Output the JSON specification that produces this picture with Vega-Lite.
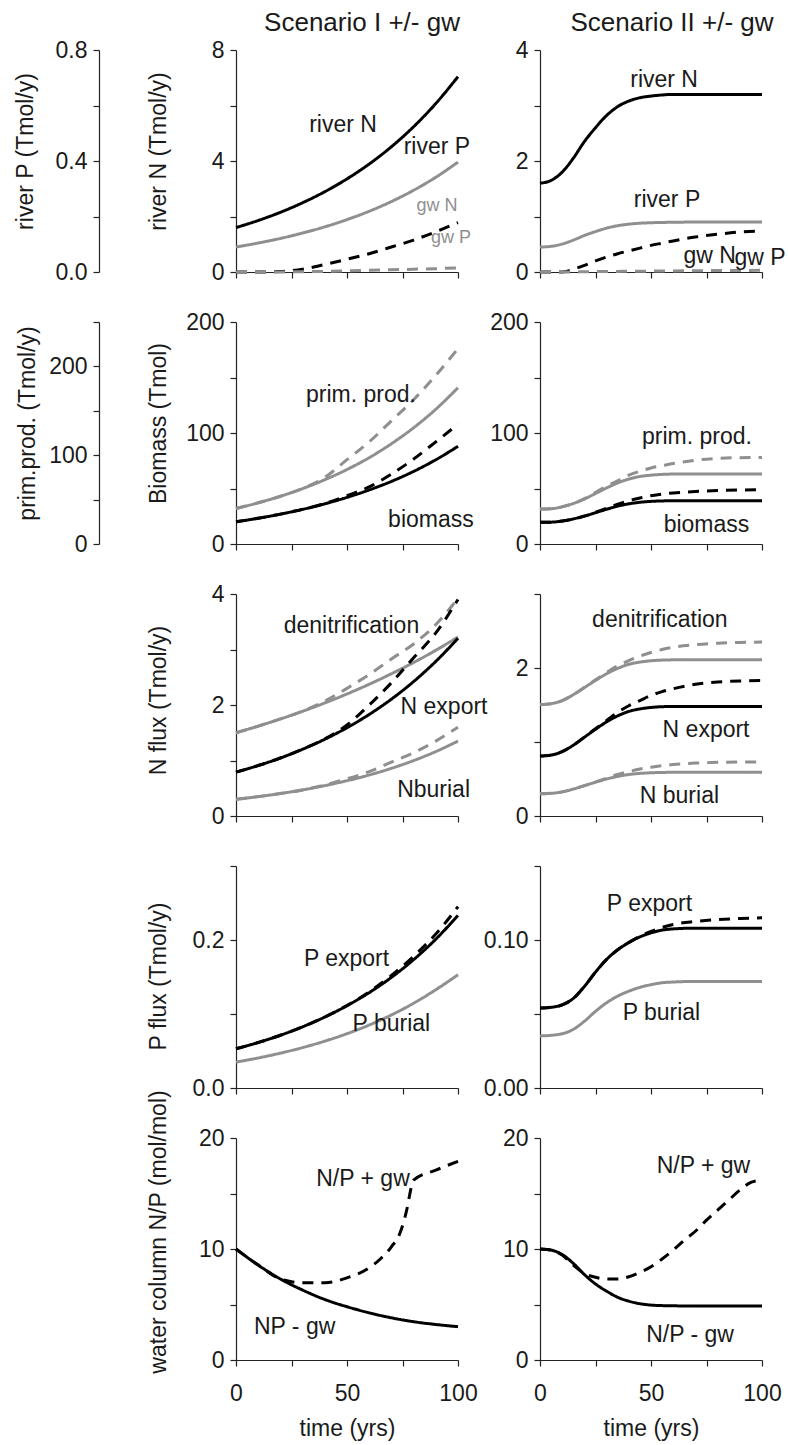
{
"$schema":"https://vega.github.io/schema/vega-lite/v6.json",
"background":"white",
"padding":{"left":13,"top":10,"right":5,"bottom":5},
"config":{
 "view":{"stroke":null},
 "font":"Liberation Sans",
 "axis":{"domainColor":"#222","domainWidth":1.2,"tickColor":"#222","tickWidth":1.2,"tickSize":6,"labelFont":"Liberation Sans","labelFontSize":23,"labelColor":"#1a1a1a","labelPadding":6,"titleFont":"Liberation Sans","titleFontSize":23,"titleFontWeight":"normal","titleColor":"#1a1a1a","grid":false,"labelFlush":false,"labelOverlap":false},
 "axisY":{"titleAlign":"center","titleBaseline":"middle"},
 "axisX":{"labelPadding":16,"titlePadding":12}
},
"datasets":{
"lines":[
{"panel":"1L","var":"N","case":"river","t":0,"v":1.6},{"panel":"1L","var":"N","case":"river","t":10,"v":1.856},{"panel":"1L","var":"N","case":"river","t":20,"v":2.152},{"panel":"1L","var":"N","case":"river","t":30,"v":2.496},{"panel":"1L","var":"N","case":"river","t":40,"v":2.894},{"panel":"1L","var":"N","case":"river","t":50,"v":3.356},{"panel":"1L","var":"N","case":"river","t":60,"v":3.892},{"panel":"1L","var":"N","case":"river","t":70,"v":4.514},{"panel":"1L","var":"N","case":"river","t":80,"v":5.235},{"panel":"1L","var":"N","case":"river","t":90,"v":6.071},{"panel":"1L","var":"N","case":"river","t":100,"v":7.04},
{"panel":"1L","var":"P","case":"river","t":0,"v":0.9},{"panel":"1L","var":"P","case":"river","t":10,"v":1.044},{"panel":"1L","var":"P","case":"river","t":20,"v":1.21},{"panel":"1L","var":"P","case":"river","t":30,"v":1.404},{"panel":"1L","var":"P","case":"river","t":40,"v":1.628},{"panel":"1L","var":"P","case":"river","t":50,"v":1.888},{"panel":"1L","var":"P","case":"river","t":60,"v":2.189},{"panel":"1L","var":"P","case":"river","t":70,"v":2.539},{"panel":"1L","var":"P","case":"river","t":80,"v":2.945},{"panel":"1L","var":"P","case":"river","t":90,"v":3.415},{"panel":"1L","var":"P","case":"river","t":100,"v":3.96},
{"panel":"1L","var":"N","case":"gw","t":0,"v":0},{"panel":"1L","var":"N","case":"gw","t":10,"v":0},{"panel":"1L","var":"N","case":"gw","t":20,"v":0.02},{"panel":"1L","var":"N","case":"gw","t":30,"v":0.1},{"panel":"1L","var":"N","case":"gw","t":40,"v":0.27},{"panel":"1L","var":"N","case":"gw","t":50,"v":0.46},{"panel":"1L","var":"N","case":"gw","t":60,"v":0.66},{"panel":"1L","var":"N","case":"gw","t":70,"v":0.9},{"panel":"1L","var":"N","case":"gw","t":80,"v":1.15},{"panel":"1L","var":"N","case":"gw","t":90,"v":1.45},{"panel":"1L","var":"N","case":"gw","t":100,"v":1.78},
{"panel":"1L","var":"P","case":"gw","t":0,"v":0},{"panel":"1L","var":"P","case":"gw","t":10,"v":0},{"panel":"1L","var":"P","case":"gw","t":20,"v":0},{"panel":"1L","var":"P","case":"gw","t":30,"v":0.01},{"panel":"1L","var":"P","case":"gw","t":40,"v":0.02},{"panel":"1L","var":"P","case":"gw","t":50,"v":0.04},{"panel":"1L","var":"P","case":"gw","t":60,"v":0.06},{"panel":"1L","var":"P","case":"gw","t":70,"v":0.08},{"panel":"1L","var":"P","case":"gw","t":80,"v":0.1},{"panel":"1L","var":"P","case":"gw","t":90,"v":0.12},{"panel":"1L","var":"P","case":"gw","t":100,"v":0.15},

{"panel":"1R","var":"N","case":"river","t":0,"v":1.6},{"panel":"1R","var":"N","case":"river","t":5,"v":1.65},{"panel":"1R","var":"N","case":"river","t":10,"v":1.8},{"panel":"1R","var":"N","case":"river","t":15,"v":2.05},{"panel":"1R","var":"N","case":"river","t":20,"v":2.35},{"panel":"1R","var":"N","case":"river","t":25,"v":2.6},{"panel":"1R","var":"N","case":"river","t":30,"v":2.82},{"panel":"1R","var":"N","case":"river","t":35,"v":2.98},{"panel":"1R","var":"N","case":"river","t":40,"v":3.08},{"panel":"1R","var":"N","case":"river","t":45,"v":3.14},{"panel":"1R","var":"N","case":"river","t":50,"v":3.17},{"panel":"1R","var":"N","case":"river","t":55,"v":3.19},{"panel":"1R","var":"N","case":"river","t":60,"v":3.2},{"panel":"1R","var":"N","case":"river","t":70,"v":3.2},{"panel":"1R","var":"N","case":"river","t":80,"v":3.2},{"panel":"1R","var":"N","case":"river","t":90,"v":3.2},{"panel":"1R","var":"N","case":"river","t":100,"v":3.2},
{"panel":"1R","var":"P","case":"river","t":0,"v":0.45},{"panel":"1R","var":"P","case":"river","t":5,"v":0.462},{"panel":"1R","var":"P","case":"river","t":10,"v":0.504},{"panel":"1R","var":"P","case":"river","t":15,"v":0.574},{"panel":"1R","var":"P","case":"river","t":20,"v":0.658},{"panel":"1R","var":"P","case":"river","t":25,"v":0.728},{"panel":"1R","var":"P","case":"river","t":30,"v":0.79},{"panel":"1R","var":"P","case":"river","t":35,"v":0.834},{"panel":"1R","var":"P","case":"river","t":40,"v":0.862},{"panel":"1R","var":"P","case":"river","t":45,"v":0.879},{"panel":"1R","var":"P","case":"river","t":50,"v":0.888},{"panel":"1R","var":"P","case":"river","t":55,"v":0.893},{"panel":"1R","var":"P","case":"river","t":60,"v":0.896},{"panel":"1R","var":"P","case":"river","t":70,"v":0.9},{"panel":"1R","var":"P","case":"river","t":80,"v":0.9},{"panel":"1R","var":"P","case":"river","t":90,"v":0.9},{"panel":"1R","var":"P","case":"river","t":100,"v":0.9},
{"panel":"1R","var":"N","case":"gw","t":0,"v":0},{"panel":"1R","var":"N","case":"gw","t":5,"v":0},{"panel":"1R","var":"N","case":"gw","t":10,"v":0},{"panel":"1R","var":"N","case":"gw","t":15,"v":0.05},{"panel":"1R","var":"N","case":"gw","t":20,"v":0.12},{"panel":"1R","var":"N","case":"gw","t":25,"v":0.2},{"panel":"1R","var":"N","case":"gw","t":30,"v":0.27},{"panel":"1R","var":"N","case":"gw","t":35,"v":0.33},{"panel":"1R","var":"N","case":"gw","t":40,"v":0.38},{"panel":"1R","var":"N","case":"gw","t":45,"v":0.43},{"panel":"1R","var":"N","case":"gw","t":50,"v":0.48},{"panel":"1R","var":"N","case":"gw","t":55,"v":0.52},{"panel":"1R","var":"N","case":"gw","t":60,"v":0.56},{"panel":"1R","var":"N","case":"gw","t":70,"v":0.63},{"panel":"1R","var":"N","case":"gw","t":80,"v":0.68},{"panel":"1R","var":"N","case":"gw","t":90,"v":0.72},{"panel":"1R","var":"N","case":"gw","t":100,"v":0.74},
{"panel":"1R","var":"P","case":"gw","t":0,"v":0},{"panel":"1R","var":"P","case":"gw","t":5,"v":0},{"panel":"1R","var":"P","case":"gw","t":10,"v":0},{"panel":"1R","var":"P","case":"gw","t":15,"v":0},{"panel":"1R","var":"P","case":"gw","t":20,"v":0.005},{"panel":"1R","var":"P","case":"gw","t":25,"v":0.007},{"panel":"1R","var":"P","case":"gw","t":30,"v":0.009},{"panel":"1R","var":"P","case":"gw","t":35,"v":0.011},{"panel":"1R","var":"P","case":"gw","t":40,"v":0.012},{"panel":"1R","var":"P","case":"gw","t":45,"v":0.014},{"panel":"1R","var":"P","case":"gw","t":50,"v":0.016},{"panel":"1R","var":"P","case":"gw","t":55,"v":0.018},{"panel":"1R","var":"P","case":"gw","t":60,"v":0.02},{"panel":"1R","var":"P","case":"gw","t":70,"v":0.023},{"panel":"1R","var":"P","case":"gw","t":80,"v":0.026},{"panel":"1R","var":"P","case":"gw","t":90,"v":0.028},{"panel":"1R","var":"P","case":"gw","t":100,"v":0.03},

{"panel":"2L","var":"prim. prod.","case":"-gw","t":0,"v":32},{"panel":"2L","var":"prim. prod.","case":"-gw","t":10,"v":37.1},{"panel":"2L","var":"prim. prod.","case":"-gw","t":20,"v":43.0},{"panel":"2L","var":"prim. prod.","case":"-gw","t":30,"v":49.9},{"panel":"2L","var":"prim. prod.","case":"-gw","t":40,"v":57.9},{"panel":"2L","var":"prim. prod.","case":"-gw","t":50,"v":67.1},{"panel":"2L","var":"prim. prod.","case":"-gw","t":60,"v":77.8},{"panel":"2L","var":"prim. prod.","case":"-gw","t":70,"v":90.3},{"panel":"2L","var":"prim. prod.","case":"-gw","t":80,"v":104.7},{"panel":"2L","var":"prim. prod.","case":"-gw","t":90,"v":121.4},{"panel":"2L","var":"prim. prod.","case":"-gw","t":100,"v":140.8},
{"panel":"2L","var":"prim. prod.","case":"+gw","t":0,"v":32},{"panel":"2L","var":"prim. prod.","case":"+gw","t":10,"v":37.1},{"panel":"2L","var":"prim. prod.","case":"+gw","t":20,"v":43.0},{"panel":"2L","var":"prim. prod.","case":"+gw","t":30,"v":50.0},{"panel":"2L","var":"prim. prod.","case":"+gw","t":40,"v":60},{"panel":"2L","var":"prim. prod.","case":"+gw","t":50,"v":76},{"panel":"2L","var":"prim. prod.","case":"+gw","t":60,"v":92},{"panel":"2L","var":"prim. prod.","case":"+gw","t":70,"v":111},{"panel":"2L","var":"prim. prod.","case":"+gw","t":80,"v":130},{"panel":"2L","var":"prim. prod.","case":"+gw","t":90,"v":152},{"panel":"2L","var":"prim. prod.","case":"+gw","t":100,"v":176},
{"panel":"2L","var":"biomass","case":"-gw","t":0,"v":20},{"panel":"2L","var":"biomass","case":"-gw","t":10,"v":23.2},{"panel":"2L","var":"biomass","case":"-gw","t":20,"v":26.9},{"panel":"2L","var":"biomass","case":"-gw","t":30,"v":31.2},{"panel":"2L","var":"biomass","case":"-gw","t":40,"v":36.2},{"panel":"2L","var":"biomass","case":"-gw","t":50,"v":42.0},{"panel":"2L","var":"biomass","case":"-gw","t":60,"v":48.7},{"panel":"2L","var":"biomass","case":"-gw","t":70,"v":56.4},{"panel":"2L","var":"biomass","case":"-gw","t":80,"v":65.4},{"panel":"2L","var":"biomass","case":"-gw","t":90,"v":75.9},{"panel":"2L","var":"biomass","case":"-gw","t":100,"v":88.0},
{"panel":"2L","var":"biomass","case":"+gw","t":0,"v":20},{"panel":"2L","var":"biomass","case":"+gw","t":10,"v":23.2},{"panel":"2L","var":"biomass","case":"+gw","t":20,"v":26.9},{"panel":"2L","var":"biomass","case":"+gw","t":30,"v":31.2},{"panel":"2L","var":"biomass","case":"+gw","t":40,"v":36.5},{"panel":"2L","var":"biomass","case":"+gw","t":50,"v":43.5},{"panel":"2L","var":"biomass","case":"+gw","t":60,"v":51.5},{"panel":"2L","var":"biomass","case":"+gw","t":70,"v":63},{"panel":"2L","var":"biomass","case":"+gw","t":80,"v":76.5},{"panel":"2L","var":"biomass","case":"+gw","t":90,"v":92},{"panel":"2L","var":"biomass","case":"+gw","t":100,"v":108},

{"panel":"2R","var":"prim. prod.","case":"-gw","t":0,"v":31.5},{"panel":"2R","var":"prim. prod.","case":"-gw","t":5,"v":31.8},{"panel":"2R","var":"prim. prod.","case":"-gw","t":10,"v":33.5},{"panel":"2R","var":"prim. prod.","case":"-gw","t":15,"v":36.5},{"panel":"2R","var":"prim. prod.","case":"-gw","t":20,"v":40.5},{"panel":"2R","var":"prim. prod.","case":"-gw","t":25,"v":45.5},{"panel":"2R","var":"prim. prod.","case":"-gw","t":30,"v":50.5},{"panel":"2R","var":"prim. prod.","case":"-gw","t":35,"v":55},{"panel":"2R","var":"prim. prod.","case":"-gw","t":40,"v":58.5},{"panel":"2R","var":"prim. prod.","case":"-gw","t":45,"v":60.8},{"panel":"2R","var":"prim. prod.","case":"-gw","t":50,"v":62},{"panel":"2R","var":"prim. prod.","case":"-gw","t":55,"v":62.7},{"panel":"2R","var":"prim. prod.","case":"-gw","t":60,"v":63},{"panel":"2R","var":"prim. prod.","case":"-gw","t":70,"v":63},{"panel":"2R","var":"prim. prod.","case":"-gw","t":80,"v":63},{"panel":"2R","var":"prim. prod.","case":"-gw","t":90,"v":63},{"panel":"2R","var":"prim. prod.","case":"-gw","t":100,"v":63},
{"panel":"2R","var":"prim. prod.","case":"+gw","t":0,"v":31.5},{"panel":"2R","var":"prim. prod.","case":"+gw","t":5,"v":31.8},{"panel":"2R","var":"prim. prod.","case":"+gw","t":10,"v":33.5},{"panel":"2R","var":"prim. prod.","case":"+gw","t":15,"v":36.5},{"panel":"2R","var":"prim. prod.","case":"+gw","t":20,"v":40.8},{"panel":"2R","var":"prim. prod.","case":"+gw","t":25,"v":46.5},{"panel":"2R","var":"prim. prod.","case":"+gw","t":30,"v":52},{"panel":"2R","var":"prim. prod.","case":"+gw","t":35,"v":57},{"panel":"2R","var":"prim. prod.","case":"+gw","t":40,"v":62},{"panel":"2R","var":"prim. prod.","case":"+gw","t":45,"v":65.5},{"panel":"2R","var":"prim. prod.","case":"+gw","t":50,"v":68.5},{"panel":"2R","var":"prim. prod.","case":"+gw","t":55,"v":70.5},{"panel":"2R","var":"prim. prod.","case":"+gw","t":60,"v":72.5},{"panel":"2R","var":"prim. prod.","case":"+gw","t":70,"v":75.5},{"panel":"2R","var":"prim. prod.","case":"+gw","t":80,"v":77},{"panel":"2R","var":"prim. prod.","case":"+gw","t":90,"v":77.8},{"panel":"2R","var":"prim. prod.","case":"+gw","t":100,"v":78},
{"panel":"2R","var":"biomass","case":"-gw","t":0,"v":19.5},{"panel":"2R","var":"biomass","case":"-gw","t":5,"v":19.7},{"panel":"2R","var":"biomass","case":"-gw","t":10,"v":20.7},{"panel":"2R","var":"biomass","case":"-gw","t":15,"v":22.6},{"panel":"2R","var":"biomass","case":"-gw","t":20,"v":25.1},{"panel":"2R","var":"biomass","case":"-gw","t":25,"v":28.2},{"panel":"2R","var":"biomass","case":"-gw","t":30,"v":31.3},{"panel":"2R","var":"biomass","case":"-gw","t":35,"v":34.1},{"panel":"2R","var":"biomass","case":"-gw","t":40,"v":36.2},{"panel":"2R","var":"biomass","case":"-gw","t":45,"v":37.6},{"panel":"2R","var":"biomass","case":"-gw","t":50,"v":38.4},{"panel":"2R","var":"biomass","case":"-gw","t":55,"v":38.8},{"panel":"2R","var":"biomass","case":"-gw","t":60,"v":39},{"panel":"2R","var":"biomass","case":"-gw","t":70,"v":39},{"panel":"2R","var":"biomass","case":"-gw","t":80,"v":39},{"panel":"2R","var":"biomass","case":"-gw","t":90,"v":39},{"panel":"2R","var":"biomass","case":"-gw","t":100,"v":39},
{"panel":"2R","var":"biomass","case":"+gw","t":0,"v":19.5},{"panel":"2R","var":"biomass","case":"+gw","t":5,"v":19.7},{"panel":"2R","var":"biomass","case":"+gw","t":10,"v":20.7},{"panel":"2R","var":"biomass","case":"+gw","t":15,"v":22.6},{"panel":"2R","var":"biomass","case":"+gw","t":20,"v":25.2},{"panel":"2R","var":"biomass","case":"+gw","t":25,"v":28.6},{"panel":"2R","var":"biomass","case":"+gw","t":30,"v":32.2},{"panel":"2R","var":"biomass","case":"+gw","t":35,"v":35.8},{"panel":"2R","var":"biomass","case":"+gw","t":40,"v":39},{"panel":"2R","var":"biomass","case":"+gw","t":45,"v":41.5},{"panel":"2R","var":"biomass","case":"+gw","t":50,"v":43.5},{"panel":"2R","var":"biomass","case":"+gw","t":55,"v":45},{"panel":"2R","var":"biomass","case":"+gw","t":60,"v":46},{"panel":"2R","var":"biomass","case":"+gw","t":70,"v":47.3},{"panel":"2R","var":"biomass","case":"+gw","t":80,"v":48.1},{"panel":"2R","var":"biomass","case":"+gw","t":90,"v":48.6},{"panel":"2R","var":"biomass","case":"+gw","t":100,"v":49},

{"panel":"3L","var":"denitrification","case":"-gw","t":0,"v":1.5},{"panel":"3L","var":"denitrification","case":"-gw","t":10,"v":1.619},{"panel":"3L","var":"denitrification","case":"-gw","t":20,"v":1.748},{"panel":"3L","var":"denitrification","case":"-gw","t":30,"v":1.887},{"panel":"3L","var":"denitrification","case":"-gw","t":40,"v":2.037},{"panel":"3L","var":"denitrification","case":"-gw","t":50,"v":2.199},{"panel":"3L","var":"denitrification","case":"-gw","t":60,"v":2.374},{"panel":"3L","var":"denitrification","case":"-gw","t":70,"v":2.563},{"panel":"3L","var":"denitrification","case":"-gw","t":80,"v":2.766},{"panel":"3L","var":"denitrification","case":"-gw","t":90,"v":2.986},{"panel":"3L","var":"denitrification","case":"-gw","t":100,"v":3.225},
{"panel":"3L","var":"denitrification","case":"+gw","t":0,"v":1.5},{"panel":"3L","var":"denitrification","case":"+gw","t":10,"v":1.62},{"panel":"3L","var":"denitrification","case":"+gw","t":20,"v":1.75},{"panel":"3L","var":"denitrification","case":"+gw","t":30,"v":1.89},{"panel":"3L","var":"denitrification","case":"+gw","t":40,"v":2.07},{"panel":"3L","var":"denitrification","case":"+gw","t":50,"v":2.3},{"panel":"3L","var":"denitrification","case":"+gw","t":60,"v":2.55},{"panel":"3L","var":"denitrification","case":"+gw","t":70,"v":2.83},{"panel":"3L","var":"denitrification","case":"+gw","t":80,"v":3.1},{"panel":"3L","var":"denitrification","case":"+gw","t":90,"v":3.45},{"panel":"3L","var":"denitrification","case":"+gw","t":100,"v":3.92},
{"panel":"3L","var":"N export","case":"-gw","t":0,"v":0.79},{"panel":"3L","var":"N export","case":"-gw","t":10,"v":0.909},{"panel":"3L","var":"N export","case":"-gw","t":20,"v":1.045},{"panel":"3L","var":"N export","case":"-gw","t":30,"v":1.203},{"panel":"3L","var":"N export","case":"-gw","t":40,"v":1.383},{"panel":"3L","var":"N export","case":"-gw","t":50,"v":1.591},{"panel":"3L","var":"N export","case":"-gw","t":60,"v":1.83},{"panel":"3L","var":"N export","case":"-gw","t":70,"v":2.105},{"panel":"3L","var":"N export","case":"-gw","t":80,"v":2.422},{"panel":"3L","var":"N export","case":"-gw","t":90,"v":2.786},{"panel":"3L","var":"N export","case":"-gw","t":100,"v":3.2},
{"panel":"3L","var":"N export","case":"+gw","t":0,"v":0.79},{"panel":"3L","var":"N export","case":"+gw","t":10,"v":0.909},{"panel":"3L","var":"N export","case":"+gw","t":20,"v":1.045},{"panel":"3L","var":"N export","case":"+gw","t":30,"v":1.205},{"panel":"3L","var":"N export","case":"+gw","t":40,"v":1.39},{"panel":"3L","var":"N export","case":"+gw","t":50,"v":1.64},{"panel":"3L","var":"N export","case":"+gw","t":60,"v":2.0},{"panel":"3L","var":"N export","case":"+gw","t":70,"v":2.4},{"panel":"3L","var":"N export","case":"+gw","t":80,"v":2.85},{"panel":"3L","var":"N export","case":"+gw","t":90,"v":3.3},{"panel":"3L","var":"N export","case":"+gw","t":100,"v":3.9},
{"panel":"3L","var":"N burial","case":"-gw","t":0,"v":0.3},{"panel":"3L","var":"N burial","case":"-gw","t":10,"v":0.349},{"panel":"3L","var":"N burial","case":"-gw","t":20,"v":0.405},{"panel":"3L","var":"N burial","case":"-gw","t":30,"v":0.47},{"panel":"3L","var":"N burial","case":"-gw","t":40,"v":0.547},{"panel":"3L","var":"N burial","case":"-gw","t":50,"v":0.636},{"panel":"3L","var":"N burial","case":"-gw","t":60,"v":0.739},{"panel":"3L","var":"N burial","case":"-gw","t":70,"v":0.859},{"panel":"3L","var":"N burial","case":"-gw","t":80,"v":0.999},{"panel":"3L","var":"N burial","case":"-gw","t":90,"v":1.161},{"panel":"3L","var":"N burial","case":"-gw","t":100,"v":1.35},
{"panel":"3L","var":"N burial","case":"+gw","t":0,"v":0.3},{"panel":"3L","var":"N burial","case":"+gw","t":10,"v":0.349},{"panel":"3L","var":"N burial","case":"+gw","t":20,"v":0.405},{"panel":"3L","var":"N burial","case":"+gw","t":30,"v":0.47},{"panel":"3L","var":"N burial","case":"+gw","t":40,"v":0.56},{"panel":"3L","var":"N burial","case":"+gw","t":50,"v":0.67},{"panel":"3L","var":"N burial","case":"+gw","t":60,"v":0.8},{"panel":"3L","var":"N burial","case":"+gw","t":70,"v":0.97},{"panel":"3L","var":"N burial","case":"+gw","t":80,"v":1.14},{"panel":"3L","var":"N burial","case":"+gw","t":90,"v":1.35},{"panel":"3L","var":"N burial","case":"+gw","t":100,"v":1.6},

{"panel":"3R","var":"denitrification","case":"-gw","t":0,"v":1.506},{"panel":"3R","var":"denitrification","case":"-gw","t":5,"v":1.518},{"panel":"3R","var":"denitrification","case":"-gw","t":10,"v":1.56},{"panel":"3R","var":"denitrification","case":"-gw","t":15,"v":1.639},{"panel":"3R","var":"denitrification","case":"-gw","t":20,"v":1.736},{"panel":"3R","var":"denitrification","case":"-gw","t":25,"v":1.832},{"panel":"3R","var":"denitrification","case":"-gw","t":30,"v":1.923},{"panel":"3R","var":"denitrification","case":"-gw","t":35,"v":1.995},{"panel":"3R","var":"denitrification","case":"-gw","t":40,"v":2.05},{"panel":"3R","var":"denitrification","case":"-gw","t":45,"v":2.08},{"panel":"3R","var":"denitrification","case":"-gw","t":50,"v":2.098},{"panel":"3R","var":"denitrification","case":"-gw","t":55,"v":2.107},{"panel":"3R","var":"denitrification","case":"-gw","t":60,"v":2.11},{"panel":"3R","var":"denitrification","case":"-gw","t":70,"v":2.11},{"panel":"3R","var":"denitrification","case":"-gw","t":80,"v":2.11},{"panel":"3R","var":"denitrification","case":"-gw","t":90,"v":2.11},{"panel":"3R","var":"denitrification","case":"-gw","t":100,"v":2.11},
{"panel":"3R","var":"denitrification","case":"+gw","t":0,"v":1.506},{"panel":"3R","var":"denitrification","case":"+gw","t":5,"v":1.518},{"panel":"3R","var":"denitrification","case":"+gw","t":10,"v":1.56},{"panel":"3R","var":"denitrification","case":"+gw","t":15,"v":1.639},{"panel":"3R","var":"denitrification","case":"+gw","t":20,"v":1.736},{"panel":"3R","var":"denitrification","case":"+gw","t":25,"v":1.84},{"panel":"3R","var":"denitrification","case":"+gw","t":30,"v":1.94},{"panel":"3R","var":"denitrification","case":"+gw","t":35,"v":2.03},{"panel":"3R","var":"denitrification","case":"+gw","t":40,"v":2.1},{"panel":"3R","var":"denitrification","case":"+gw","t":45,"v":2.16},{"panel":"3R","var":"denitrification","case":"+gw","t":50,"v":2.21},{"panel":"3R","var":"denitrification","case":"+gw","t":55,"v":2.25},{"panel":"3R","var":"denitrification","case":"+gw","t":60,"v":2.28},{"panel":"3R","var":"denitrification","case":"+gw","t":70,"v":2.315},{"panel":"3R","var":"denitrification","case":"+gw","t":80,"v":2.335},{"panel":"3R","var":"denitrification","case":"+gw","t":90,"v":2.345},{"panel":"3R","var":"denitrification","case":"+gw","t":100,"v":2.35},
{"panel":"3R","var":"N export","case":"-gw","t":0,"v":0.81},{"panel":"3R","var":"N export","case":"-gw","t":5,"v":0.823},{"panel":"3R","var":"N export","case":"-gw","t":10,"v":0.87},{"panel":"3R","var":"N export","case":"-gw","t":15,"v":0.957},{"panel":"3R","var":"N export","case":"-gw","t":20,"v":1.065},{"panel":"3R","var":"N export","case":"-gw","t":25,"v":1.172},{"panel":"3R","var":"N export","case":"-gw","t":30,"v":1.272},{"panel":"3R","var":"N export","case":"-gw","t":35,"v":1.353},{"panel":"3R","var":"N export","case":"-gw","t":40,"v":1.413},{"panel":"3R","var":"N export","case":"-gw","t":45,"v":1.447},{"panel":"3R","var":"N export","case":"-gw","t":50,"v":1.467},{"panel":"3R","var":"N export","case":"-gw","t":55,"v":1.477},{"panel":"3R","var":"N export","case":"-gw","t":60,"v":1.48},{"panel":"3R","var":"N export","case":"-gw","t":70,"v":1.48},{"panel":"3R","var":"N export","case":"-gw","t":80,"v":1.48},{"panel":"3R","var":"N export","case":"-gw","t":90,"v":1.48},{"panel":"3R","var":"N export","case":"-gw","t":100,"v":1.48},
{"panel":"3R","var":"N export","case":"+gw","t":0,"v":0.81},{"panel":"3R","var":"N export","case":"+gw","t":5,"v":0.823},{"panel":"3R","var":"N export","case":"+gw","t":10,"v":0.87},{"panel":"3R","var":"N export","case":"+gw","t":15,"v":0.957},{"panel":"3R","var":"N export","case":"+gw","t":20,"v":1.065},{"panel":"3R","var":"N export","case":"+gw","t":25,"v":1.18},{"panel":"3R","var":"N export","case":"+gw","t":30,"v":1.29},{"panel":"3R","var":"N export","case":"+gw","t":35,"v":1.4},{"panel":"3R","var":"N export","case":"+gw","t":40,"v":1.49},{"panel":"3R","var":"N export","case":"+gw","t":45,"v":1.56},{"panel":"3R","var":"N export","case":"+gw","t":50,"v":1.63},{"panel":"3R","var":"N export","case":"+gw","t":55,"v":1.68},{"panel":"3R","var":"N export","case":"+gw","t":60,"v":1.72},{"panel":"3R","var":"N export","case":"+gw","t":70,"v":1.78},{"panel":"3R","var":"N export","case":"+gw","t":80,"v":1.81},{"panel":"3R","var":"N export","case":"+gw","t":90,"v":1.825},{"panel":"3R","var":"N export","case":"+gw","t":100,"v":1.83},
{"panel":"3R","var":"N burial","case":"-gw","t":0,"v":0.3},{"panel":"3R","var":"N burial","case":"-gw","t":5,"v":0.306},{"panel":"3R","var":"N burial","case":"-gw","t":10,"v":0.326},{"panel":"3R","var":"N burial","case":"-gw","t":15,"v":0.364},{"panel":"3R","var":"N burial","case":"-gw","t":20,"v":0.41},{"panel":"3R","var":"N burial","case":"-gw","t":25,"v":0.457},{"panel":"3R","var":"N burial","case":"-gw","t":30,"v":0.5},{"panel":"3R","var":"N burial","case":"-gw","t":35,"v":0.535},{"panel":"3R","var":"N burial","case":"-gw","t":40,"v":0.561},{"panel":"3R","var":"N burial","case":"-gw","t":45,"v":0.576},{"panel":"3R","var":"N burial","case":"-gw","t":50,"v":0.584},{"panel":"3R","var":"N burial","case":"-gw","t":55,"v":0.589},{"panel":"3R","var":"N burial","case":"-gw","t":60,"v":0.59},{"panel":"3R","var":"N burial","case":"-gw","t":70,"v":0.59},{"panel":"3R","var":"N burial","case":"-gw","t":80,"v":0.59},{"panel":"3R","var":"N burial","case":"-gw","t":90,"v":0.59},{"panel":"3R","var":"N burial","case":"-gw","t":100,"v":0.59},
{"panel":"3R","var":"N burial","case":"+gw","t":0,"v":0.3},{"panel":"3R","var":"N burial","case":"+gw","t":5,"v":0.306},{"panel":"3R","var":"N burial","case":"+gw","t":10,"v":0.326},{"panel":"3R","var":"N burial","case":"+gw","t":15,"v":0.364},{"panel":"3R","var":"N burial","case":"+gw","t":20,"v":0.41},{"panel":"3R","var":"N burial","case":"+gw","t":25,"v":0.46},{"panel":"3R","var":"N burial","case":"+gw","t":30,"v":0.51},{"panel":"3R","var":"N burial","case":"+gw","t":35,"v":0.56},{"panel":"3R","var":"N burial","case":"+gw","t":40,"v":0.6},{"panel":"3R","var":"N burial","case":"+gw","t":45,"v":0.635},{"panel":"3R","var":"N burial","case":"+gw","t":50,"v":0.66},{"panel":"3R","var":"N burial","case":"+gw","t":55,"v":0.68},{"panel":"3R","var":"N burial","case":"+gw","t":60,"v":0.695},{"panel":"3R","var":"N burial","case":"+gw","t":70,"v":0.715},{"panel":"3R","var":"N burial","case":"+gw","t":80,"v":0.725},{"panel":"3R","var":"N burial","case":"+gw","t":90,"v":0.729},{"panel":"3R","var":"N burial","case":"+gw","t":100,"v":0.73},

{"panel":"4L","var":"P export","case":"-gw","t":0,"v":0.053},{"panel":"4L","var":"P export","case":"-gw","t":10,"v":0.0615},{"panel":"4L","var":"P export","case":"-gw","t":20,"v":0.0713},{"panel":"4L","var":"P export","case":"-gw","t":30,"v":0.0827},{"panel":"4L","var":"P export","case":"-gw","t":40,"v":0.0959},{"panel":"4L","var":"P export","case":"-gw","t":50,"v":0.1112},{"panel":"4L","var":"P export","case":"-gw","t":60,"v":0.1289},{"panel":"4L","var":"P export","case":"-gw","t":70,"v":0.1495},{"panel":"4L","var":"P export","case":"-gw","t":80,"v":0.1734},{"panel":"4L","var":"P export","case":"-gw","t":90,"v":0.2011},{"panel":"4L","var":"P export","case":"-gw","t":100,"v":0.2332},
{"panel":"4L","var":"P export","case":"+gw","t":0,"v":0.053},{"panel":"4L","var":"P export","case":"+gw","t":10,"v":0.0615},{"panel":"4L","var":"P export","case":"+gw","t":20,"v":0.0713},{"panel":"4L","var":"P export","case":"+gw","t":30,"v":0.0827},{"panel":"4L","var":"P export","case":"+gw","t":40,"v":0.0959},{"panel":"4L","var":"P export","case":"+gw","t":50,"v":0.1115},{"panel":"4L","var":"P export","case":"+gw","t":60,"v":0.13},{"panel":"4L","var":"P export","case":"+gw","t":70,"v":0.152},{"panel":"4L","var":"P export","case":"+gw","t":80,"v":0.178},{"panel":"4L","var":"P export","case":"+gw","t":90,"v":0.208},{"panel":"4L","var":"P export","case":"+gw","t":100,"v":0.245},
{"panel":"4L","var":"P burial","case":"-gw","t":0,"v":0.035},{"panel":"4L","var":"P burial","case":"-gw","t":10,"v":0.0406},{"panel":"4L","var":"P burial","case":"-gw","t":20,"v":0.0471},{"panel":"4L","var":"P burial","case":"-gw","t":30,"v":0.0546},{"panel":"4L","var":"P burial","case":"-gw","t":40,"v":0.0633},{"panel":"4L","var":"P burial","case":"-gw","t":50,"v":0.0734},{"panel":"4L","var":"P burial","case":"-gw","t":60,"v":0.0851},{"panel":"4L","var":"P burial","case":"-gw","t":70,"v":0.0987},{"panel":"4L","var":"P burial","case":"-gw","t":80,"v":0.1145},{"panel":"4L","var":"P burial","case":"-gw","t":90,"v":0.1328},{"panel":"4L","var":"P burial","case":"-gw","t":100,"v":0.153},

{"panel":"4R","var":"P export","case":"-gw","t":0,"v":0.054},{"panel":"4R","var":"P export","case":"-gw","t":5,"v":0.0545},{"panel":"4R","var":"P export","case":"-gw","t":10,"v":0.0562},{"panel":"4R","var":"P export","case":"-gw","t":15,"v":0.0605},{"panel":"4R","var":"P export","case":"-gw","t":20,"v":0.0686},{"panel":"4R","var":"P export","case":"-gw","t":25,"v":0.0783},{"panel":"4R","var":"P export","case":"-gw","t":30,"v":0.0869},{"panel":"4R","var":"P export","case":"-gw","t":35,"v":0.0934},{"panel":"4R","var":"P export","case":"-gw","t":40,"v":0.0983},{"panel":"4R","var":"P export","case":"-gw","t":45,"v":0.1021},{"panel":"4R","var":"P export","case":"-gw","t":50,"v":0.1048},{"panel":"4R","var":"P export","case":"-gw","t":55,"v":0.1067},{"panel":"4R","var":"P export","case":"-gw","t":60,"v":0.1075},{"panel":"4R","var":"P export","case":"-gw","t":70,"v":0.108},{"panel":"4R","var":"P export","case":"-gw","t":80,"v":0.108},{"panel":"4R","var":"P export","case":"-gw","t":90,"v":0.108},{"panel":"4R","var":"P export","case":"-gw","t":100,"v":0.108},
{"panel":"4R","var":"P export","case":"+gw","t":0,"v":0.054},{"panel":"4R","var":"P export","case":"+gw","t":5,"v":0.0545},{"panel":"4R","var":"P export","case":"+gw","t":10,"v":0.0562},{"panel":"4R","var":"P export","case":"+gw","t":15,"v":0.0605},{"panel":"4R","var":"P export","case":"+gw","t":20,"v":0.0686},{"panel":"4R","var":"P export","case":"+gw","t":25,"v":0.0783},{"panel":"4R","var":"P export","case":"+gw","t":30,"v":0.0869},{"panel":"4R","var":"P export","case":"+gw","t":35,"v":0.0934},{"panel":"4R","var":"P export","case":"+gw","t":40,"v":0.0983},{"panel":"4R","var":"P export","case":"+gw","t":45,"v":0.1025},{"panel":"4R","var":"P export","case":"+gw","t":50,"v":0.1058},{"panel":"4R","var":"P export","case":"+gw","t":55,"v":0.1085},{"panel":"4R","var":"P export","case":"+gw","t":60,"v":0.1105},{"panel":"4R","var":"P export","case":"+gw","t":70,"v":0.1125},{"panel":"4R","var":"P export","case":"+gw","t":80,"v":0.1138},{"panel":"4R","var":"P export","case":"+gw","t":90,"v":0.1145},{"panel":"4R","var":"P export","case":"+gw","t":100,"v":0.115},
{"panel":"4R","var":"P burial","case":"-gw","t":0,"v":0.0352},{"panel":"4R","var":"P burial","case":"-gw","t":5,"v":0.0356},{"panel":"4R","var":"P burial","case":"-gw","t":10,"v":0.0367},{"panel":"4R","var":"P burial","case":"-gw","t":15,"v":0.0396},{"panel":"4R","var":"P burial","case":"-gw","t":20,"v":0.0451},{"panel":"4R","var":"P burial","case":"-gw","t":25,"v":0.0518},{"panel":"4R","var":"P burial","case":"-gw","t":30,"v":0.0576},{"panel":"4R","var":"P burial","case":"-gw","t":35,"v":0.0621},{"panel":"4R","var":"P burial","case":"-gw","t":40,"v":0.0654},{"panel":"4R","var":"P burial","case":"-gw","t":45,"v":0.068},{"panel":"4R","var":"P burial","case":"-gw","t":50,"v":0.0698},{"panel":"4R","var":"P burial","case":"-gw","t":55,"v":0.0711},{"panel":"4R","var":"P burial","case":"-gw","t":60,"v":0.0716},{"panel":"4R","var":"P burial","case":"-gw","t":70,"v":0.072},{"panel":"4R","var":"P burial","case":"-gw","t":80,"v":0.072},{"panel":"4R","var":"P burial","case":"-gw","t":90,"v":0.072},{"panel":"4R","var":"P burial","case":"-gw","t":100,"v":0.072},

{"panel":"5L","var":"N/P","case":"-gw","t":0,"v":10},{"panel":"5L","var":"N/P","case":"-gw","t":10,"v":8.55},{"panel":"5L","var":"N/P","case":"-gw","t":20,"v":7.3},{"panel":"5L","var":"N/P","case":"-gw","t":30,"v":6.3},{"panel":"5L","var":"N/P","case":"-gw","t":40,"v":5.45},{"panel":"5L","var":"N/P","case":"-gw","t":50,"v":4.8},{"panel":"5L","var":"N/P","case":"-gw","t":60,"v":4.25},{"panel":"5L","var":"N/P","case":"-gw","t":70,"v":3.8},{"panel":"5L","var":"N/P","case":"-gw","t":80,"v":3.45},{"panel":"5L","var":"N/P","case":"-gw","t":90,"v":3.2},{"panel":"5L","var":"N/P","case":"-gw","t":100,"v":3.0},
{"panel":"5L","var":"N/P","case":"+gw","t":0,"v":10},{"panel":"5L","var":"N/P","case":"+gw","t":10,"v":8.55},{"panel":"5L","var":"N/P","case":"+gw","t":20,"v":7.3},{"panel":"5L","var":"N/P","case":"+gw","t":25,"v":7.05},{"panel":"5L","var":"N/P","case":"+gw","t":30,"v":6.95},{"panel":"5L","var":"N/P","case":"+gw","t":40,"v":6.95},{"panel":"5L","var":"N/P","case":"+gw","t":50,"v":7.4},{"panel":"5L","var":"N/P","case":"+gw","t":60,"v":8.3},{"panel":"5L","var":"N/P","case":"+gw","t":65,"v":9.1},{"panel":"5L","var":"N/P","case":"+gw","t":70,"v":10.2},{"panel":"5L","var":"N/P","case":"+gw","t":74,"v":11.5},{"panel":"5L","var":"N/P","case":"+gw","t":77,"v":13.6},{"panel":"5L","var":"N/P","case":"+gw","t":79,"v":15.6},{"panel":"5L","var":"N/P","case":"+gw","t":80,"v":16.2},{"panel":"5L","var":"N/P","case":"+gw","t":90,"v":17.1},{"panel":"5L","var":"N/P","case":"+gw","t":100,"v":17.9},

{"panel":"5R","var":"N/P","case":"-gw","t":0,"v":10},{"panel":"5R","var":"N/P","case":"-gw","t":5,"v":9.9},{"panel":"5R","var":"N/P","case":"-gw","t":10,"v":9.5},{"panel":"5R","var":"N/P","case":"-gw","t":15,"v":8.7},{"panel":"5R","var":"N/P","case":"-gw","t":20,"v":7.7},{"panel":"5R","var":"N/P","case":"-gw","t":25,"v":6.85},{"panel":"5R","var":"N/P","case":"-gw","t":30,"v":6.2},{"panel":"5R","var":"N/P","case":"-gw","t":35,"v":5.65},{"panel":"5R","var":"N/P","case":"-gw","t":40,"v":5.3},{"panel":"5R","var":"N/P","case":"-gw","t":45,"v":5.07},{"panel":"5R","var":"N/P","case":"-gw","t":50,"v":4.95},{"panel":"5R","var":"N/P","case":"-gw","t":55,"v":4.9},{"panel":"5R","var":"N/P","case":"-gw","t":60,"v":4.88},{"panel":"5R","var":"N/P","case":"-gw","t":70,"v":4.87},{"panel":"5R","var":"N/P","case":"-gw","t":80,"v":4.87},{"panel":"5R","var":"N/P","case":"-gw","t":90,"v":4.87},{"panel":"5R","var":"N/P","case":"-gw","t":100,"v":4.87},
{"panel":"5R","var":"N/P","case":"+gw","t":0,"v":10},{"panel":"5R","var":"N/P","case":"+gw","t":5,"v":9.9},{"panel":"5R","var":"N/P","case":"+gw","t":10,"v":9.45},{"panel":"5R","var":"N/P","case":"+gw","t":15,"v":8.55},{"panel":"5R","var":"N/P","case":"+gw","t":20,"v":7.8},{"panel":"5R","var":"N/P","case":"+gw","t":25,"v":7.45},{"panel":"5R","var":"N/P","case":"+gw","t":30,"v":7.3},{"panel":"5R","var":"N/P","case":"+gw","t":35,"v":7.3},{"panel":"5R","var":"N/P","case":"+gw","t":40,"v":7.5},{"panel":"5R","var":"N/P","case":"+gw","t":45,"v":7.9},{"panel":"5R","var":"N/P","case":"+gw","t":50,"v":8.4},{"panel":"5R","var":"N/P","case":"+gw","t":55,"v":9.1},{"panel":"5R","var":"N/P","case":"+gw","t":60,"v":9.9},{"panel":"5R","var":"N/P","case":"+gw","t":65,"v":10.8},{"panel":"5R","var":"N/P","case":"+gw","t":70,"v":11.6},{"panel":"5R","var":"N/P","case":"+gw","t":75,"v":12.6},{"panel":"5R","var":"N/P","case":"+gw","t":80,"v":13.5},{"panel":"5R","var":"N/P","case":"+gw","t":85,"v":14.4},{"panel":"5R","var":"N/P","case":"+gw","t":90,"v":15.3},{"panel":"5R","var":"N/P","case":"+gw","t":95,"v":16.0},{"panel":"5R","var":"N/P","case":"+gw","t":100,"v":16.2}
],
"labels":[
{"panel":"1L","label":"river N","t":48.2,"v":5.3},{"panel":"1L","label":"river P","t":90.5,"v":4.5},{"panel":"1L","label":"gw N","t":90.5,"v":2.38},{"panel":"1L","label":"gw P","t":96.8,"v":1.23},
{"panel":"1R","label":"river N","t":55.9,"v":3.46},{"panel":"1R","label":"river P","t":57.2,"v":1.3},{"panel":"1R","label":"gw N","t":76.4,"v":0.28},{"panel":"1R","label":"gw P","t":99.1,"v":0.25},
{"panel":"2L","label":"prim. prod.","t":56.3,"v":134.5},{"panel":"2L","label":"biomass","t":87.8,"v":21.5},
{"panel":"2R","label":"prim. prod.","t":70.7,"v":96},{"panel":"2R","label":"biomass","t":75,"v":17},
{"panel":"3L","label":"denitrification","t":52,"v":3.43},{"panel":"3L","label":"N export","t":93.7,"v":1.97},{"panel":"3L","label":"Nburial","t":89,"v":0.47},
{"panel":"3R","label":"denitrification","t":54,"v":2.65},{"panel":"3R","label":"N export","t":74.8,"v":1.16},{"panel":"3R","label":"N burial","t":62.8,"v":0.27},
{"panel":"4L","label":"P export","t":49.8,"v":0.1737},{"panel":"4L","label":"P burial","t":70,"v":0.086},
{"panel":"4R","label":"P export","t":49.3,"v":0.1243},{"panel":"4R","label":"P burial","t":54.7,"v":0.0505},
{"panel":"5L","label":"N/P + gw","t":57.2,"v":16.3},{"panel":"5L","label":"NP - gw","t":26.4,"v":3.0},
{"panel":"5R","label":"N/P + gw","t":73.6,"v":17.45},{"panel":"5R","label":"N/P - gw","t":67.6,"v":2.29}
]
},
"columns":3,
"bounds":"flush",
"spacing":{"row":50,"column":82},
"concat":[
{"width":55,"height":222,"data":{"values":[{"v":0},{"v":0.8}]},"mark":{"type":"point","opacity":0},
 "encoding":{"y":{"field":"v","type":"quantitative","scale":{"domain":[0,0.8],"nice":false},"axis":{"values":[0,0.2,0.4,0.6,0.8],"format":".1f","labelExpr":"indexof(['0.0','0.4','0.8'], datum.label) >= 0 ? datum.label : ''","title":"river P (Tmol/y)","titleX":-74,"titleY":101}}}},
{"width":222,"height":222,
 "title":{"text":"Scenario I +/- gw","font":"Liberation Sans","fontSize":26,"fontWeight":"normal","color":"#1a1a1a","anchor":"middle","dx":15,"offset":-18,"baseline":"alphabetic"},
 "encoding":{"x":{"field":"t","type":"quantitative","scale":{"domain":[0,100],"nice":false},"axis":{"values":[0,25,50,75,100],"labels":false,"title":null}},
  "y":{"field":"v","type":"quantitative","scale":{"domain":[0,8],"nice":false},"axis":{"values":[0,2,4,6,8],"labelExpr":"datum.value % 4 === 0 ? datum.label : ''","title":"river N (Tmol/y)","titleX":-78,"titleY":101}}},
 "layer":[
  {"data":{"name":"lines"},"transform":[{"filter":"datum.panel === '1L'"}],"mark":{"type":"line","strokeWidth":3,"interpolate":"monotone"},
   "encoding":{"color":{"field":"var","type":"nominal","scale":{"domain":["N","P","prim. prod.","biomass","denitrification","N export","N burial","P export","P burial","N/P"],"range":["#000000","#8f8f8f","#8f8f8f","#000000","#8f8f8f","#000000","#8f8f8f","#000000","#8f8f8f","#000000"]},"legend":null},"strokeDash":{"field":"case","type":"nominal","scale":{"domain":["river","gw","-gw","+gw"],"range":[[1,0],[11,8],[1,0],[11,8]]},"legend":null}}},
  {"data":{"name":"labels"},"transform":[{"filter":"datum.panel === '1L' && indexof(['gw N','gw P'], datum.label) < 0"}],"mark":{"type":"text","font":"Liberation Sans","fontSize":23,"color":"#1a1a1a"},"encoding":{"text":{"field":"label"}}},
  {"data":{"name":"labels"},"transform":[{"filter":"datum.panel === '1L' && indexof(['gw N','gw P'], datum.label) >= 0"}],"mark":{"type":"text","font":"Liberation Sans","fontSize":18,"color":"#8f8f8f"},"encoding":{"text":{"field":"label"}}}
 ]},
{"width":222,"height":222,
 "title":{"text":"Scenario II +/- gw","font":"Liberation Sans","fontSize":26,"fontWeight":"normal","color":"#1a1a1a","anchor":"middle","dx":21,"offset":-18,"baseline":"alphabetic"},
 "encoding":{"x":{"field":"t","type":"quantitative","scale":{"domain":[0,100],"nice":false},"axis":{"values":[0,25,50,75,100],"labels":false,"title":null}},
  "y":{"field":"v","type":"quantitative","scale":{"domain":[0,4],"nice":false},"axis":{"values":[0,1,2,3,4],"labelExpr":"datum.value % 2 === 0 ? datum.label : ''","title":null}}},
 "layer":[
  {"data":{"name":"lines"},"transform":[{"filter":"datum.panel === '1R'"}],"mark":{"type":"line","strokeWidth":3,"interpolate":"monotone"},
   "encoding":{"color":{"field":"var","type":"nominal","scale":{"domain":["N","P","prim. prod.","biomass","denitrification","N export","N burial","P export","P burial","N/P"],"range":["#000000","#8f8f8f","#8f8f8f","#000000","#8f8f8f","#000000","#8f8f8f","#000000","#8f8f8f","#000000"]},"legend":null},"strokeDash":{"field":"case","type":"nominal","scale":{"domain":["river","gw","-gw","+gw"],"range":[[1,0],[11,8],[1,0],[11,8]]},"legend":null}}},
  {"data":{"name":"labels"},"transform":[{"filter":"datum.panel === '1R'"}],"mark":{"type":"text","font":"Liberation Sans","fontSize":23,"color":"#1a1a1a"},"encoding":{"text":{"field":"label"}}}
 ]},

{"width":55,"height":222,"data":{"values":[{"v":0},{"v":250}]},"mark":{"type":"point","opacity":0},
 "encoding":{"y":{"field":"v","type":"quantitative","scale":{"domain":[0,250],"nice":false},"axis":{"values":[0,50,100,150,200,250],"labelExpr":"datum.value % 100 === 0 ? datum.label : ''","title":"prim.prod. (Tmol/y)","titleX":-72,"titleY":101}}}},
{"width":222,"height":222,
 "encoding":{"x":{"field":"t","type":"quantitative","scale":{"domain":[0,100],"nice":false},"axis":{"values":[0,25,50,75,100],"labels":false,"title":null}},
  "y":{"field":"v","type":"quantitative","scale":{"domain":[0,200],"nice":false},"axis":{"values":[0,50,100,150,200],"labelExpr":"datum.value % 100 === 0 ? datum.label : ''","title":"Biomass (Tmol)","titleX":-78,"titleY":101}}},
 "layer":[
  {"data":{"name":"lines"},"transform":[{"filter":"datum.panel === '2L'"}],"mark":{"type":"line","strokeWidth":3,"interpolate":"monotone"},
   "encoding":{"color":{"field":"var","type":"nominal","scale":{"domain":["N","P","prim. prod.","biomass","denitrification","N export","N burial","P export","P burial","N/P"],"range":["#000000","#8f8f8f","#8f8f8f","#000000","#8f8f8f","#000000","#8f8f8f","#000000","#8f8f8f","#000000"]},"legend":null},"strokeDash":{"field":"case","type":"nominal","scale":{"domain":["river","gw","-gw","+gw"],"range":[[1,0],[11,8],[1,0],[11,8]]},"legend":null}}},
  {"data":{"name":"labels"},"transform":[{"filter":"datum.panel === '2L'"}],"mark":{"type":"text","font":"Liberation Sans","fontSize":23,"color":"#1a1a1a"},"encoding":{"text":{"field":"label"}}}
 ]},
{"width":222,"height":222,
 "encoding":{"x":{"field":"t","type":"quantitative","scale":{"domain":[0,100],"nice":false},"axis":{"values":[0,25,50,75,100],"labels":false,"title":null}},
  "y":{"field":"v","type":"quantitative","scale":{"domain":[0,200],"nice":false},"axis":{"values":[0,50,100,150,200],"labelExpr":"datum.value % 100 === 0 ? datum.label : ''","title":null}}},
 "layer":[
  {"data":{"name":"lines"},"transform":[{"filter":"datum.panel === '2R'"}],"mark":{"type":"line","strokeWidth":3,"interpolate":"monotone"},
   "encoding":{"color":{"field":"var","type":"nominal","scale":{"domain":["N","P","prim. prod.","biomass","denitrification","N export","N burial","P export","P burial","N/P"],"range":["#000000","#8f8f8f","#8f8f8f","#000000","#8f8f8f","#000000","#8f8f8f","#000000","#8f8f8f","#000000"]},"legend":null},"strokeDash":{"field":"case","type":"nominal","scale":{"domain":["river","gw","-gw","+gw"],"range":[[1,0],[11,8],[1,0],[11,8]]},"legend":null}}},
  {"data":{"name":"labels"},"transform":[{"filter":"datum.panel === '2R'"}],"mark":{"type":"text","font":"Liberation Sans","fontSize":23,"color":"#1a1a1a"},"encoding":{"text":{"field":"label"}}}
 ]},

{"width":55,"height":222,"data":{"values":[{}]},"mark":{"type":"point","opacity":0},"encoding":{}},
{"width":222,"height":222,
 "encoding":{"x":{"field":"t","type":"quantitative","scale":{"domain":[0,100],"nice":false},"axis":{"values":[0,25,50,75,100],"labels":false,"title":null}},
  "y":{"field":"v","type":"quantitative","scale":{"domain":[0,4],"nice":false},"axis":{"values":[0,1,2,3,4],"labelExpr":"datum.value % 2 === 0 ? datum.label : ''","title":"N flux (Tmol/y)","titleX":-78,"titleY":106}}},
 "layer":[
  {"data":{"name":"lines"},"transform":[{"filter":"datum.panel === '3L'"}],"mark":{"type":"line","strokeWidth":3,"interpolate":"monotone"},
   "encoding":{"color":{"field":"var","type":"nominal","scale":{"domain":["N","P","prim. prod.","biomass","denitrification","N export","N burial","P export","P burial","N/P"],"range":["#000000","#8f8f8f","#8f8f8f","#000000","#8f8f8f","#000000","#8f8f8f","#000000","#8f8f8f","#000000"]},"legend":null},"strokeDash":{"field":"case","type":"nominal","scale":{"domain":["river","gw","-gw","+gw"],"range":[[1,0],[11,8],[1,0],[11,8]]},"legend":null}}},
  {"data":{"name":"labels"},"transform":[{"filter":"datum.panel === '3L'"}],"mark":{"type":"text","font":"Liberation Sans","fontSize":23,"color":"#1a1a1a"},"encoding":{"text":{"field":"label"}}}
 ]},
{"width":222,"height":222,
 "encoding":{"x":{"field":"t","type":"quantitative","scale":{"domain":[0,100],"nice":false},"axis":{"values":[0,25,50,75,100],"labels":false,"title":null}},
  "y":{"field":"v","type":"quantitative","scale":{"domain":[0,3],"nice":false},"axis":{"values":[0,1,2,3],"labelExpr":"datum.value % 2 === 0 ? datum.label : ''","title":null}}},
 "layer":[
  {"data":{"name":"lines"},"transform":[{"filter":"datum.panel === '3R'"}],"mark":{"type":"line","strokeWidth":3,"interpolate":"monotone"},
   "encoding":{"color":{"field":"var","type":"nominal","scale":{"domain":["N","P","prim. prod.","biomass","denitrification","N export","N burial","P export","P burial","N/P"],"range":["#000000","#8f8f8f","#8f8f8f","#000000","#8f8f8f","#000000","#8f8f8f","#000000","#8f8f8f","#000000"]},"legend":null},"strokeDash":{"field":"case","type":"nominal","scale":{"domain":["river","gw","-gw","+gw"],"range":[[1,0],[11,8],[1,0],[11,8]]},"legend":null}}},
  {"data":{"name":"labels"},"transform":[{"filter":"datum.panel === '3R'"}],"mark":{"type":"text","font":"Liberation Sans","fontSize":23,"color":"#1a1a1a"},"encoding":{"text":{"field":"label"}}}
 ]},

{"width":55,"height":222,"data":{"values":[{}]},"mark":{"type":"point","opacity":0},"encoding":{}},
{"width":222,"height":222,
 "encoding":{"x":{"field":"t","type":"quantitative","scale":{"domain":[0,100],"nice":false},"axis":{"values":[0,25,50,75,100],"labels":false,"title":null}},
  "y":{"field":"v","type":"quantitative","scale":{"domain":[0,0.3],"nice":false},"axis":{"values":[0,0.1,0.2,0.3],"format":".1f","labelExpr":"indexof(['0.0','0.2'], datum.label) >= 0 ? datum.label : ''","title":"P flux (Tmol/y)","titleX":-78,"titleY":110}}},
 "layer":[
  {"data":{"name":"lines"},"transform":[{"filter":"datum.panel === '4L'"}],"mark":{"type":"line","strokeWidth":3,"interpolate":"monotone"},
   "encoding":{"color":{"field":"var","type":"nominal","scale":{"domain":["N","P","prim. prod.","biomass","denitrification","N export","N burial","P export","P burial","N/P"],"range":["#000000","#8f8f8f","#8f8f8f","#000000","#8f8f8f","#000000","#8f8f8f","#000000","#8f8f8f","#000000"]},"legend":null},"strokeDash":{"field":"case","type":"nominal","scale":{"domain":["river","gw","-gw","+gw"],"range":[[1,0],[11,8],[1,0],[11,8]]},"legend":null}}},
  {"data":{"name":"labels"},"transform":[{"filter":"datum.panel === '4L'"}],"mark":{"type":"text","font":"Liberation Sans","fontSize":23,"color":"#1a1a1a"},"encoding":{"text":{"field":"label"}}}
 ]},
{"width":222,"height":222,
 "encoding":{"x":{"field":"t","type":"quantitative","scale":{"domain":[0,100],"nice":false},"axis":{"values":[0,25,50,75,100],"labels":false,"title":null}},
  "y":{"field":"v","type":"quantitative","scale":{"domain":[0,0.15],"nice":false},"axis":{"values":[0,0.05,0.1,0.15],"format":".2f","labelExpr":"indexof(['0.00','0.10'], datum.label) >= 0 ? datum.label : ''","title":null}}},
 "layer":[
  {"data":{"name":"lines"},"transform":[{"filter":"datum.panel === '4R'"}],"mark":{"type":"line","strokeWidth":3,"interpolate":"monotone"},
   "encoding":{"color":{"field":"var","type":"nominal","scale":{"domain":["N","P","prim. prod.","biomass","denitrification","N export","N burial","P export","P burial","N/P"],"range":["#000000","#8f8f8f","#8f8f8f","#000000","#8f8f8f","#000000","#8f8f8f","#000000","#8f8f8f","#000000"]},"legend":null},"strokeDash":{"field":"case","type":"nominal","scale":{"domain":["river","gw","-gw","+gw"],"range":[[1,0],[11,8],[1,0],[11,8]]},"legend":null}}},
  {"data":{"name":"labels"},"transform":[{"filter":"datum.panel === '4R'"}],"mark":{"type":"text","font":"Liberation Sans","fontSize":23,"color":"#1a1a1a"},"encoding":{"text":{"field":"label"}}}
 ]},

{"width":55,"height":222,"data":{"values":[{}]},"mark":{"type":"point","opacity":0},"encoding":{}},
{"width":222,"height":222,
 "encoding":{"x":{"field":"t","type":"quantitative","scale":{"domain":[0,100],"nice":false},"axis":{"values":[0,25,50,75,100],"labelExpr":"datum.value % 50 === 0 ? datum.label : ''","title":"time (yrs)"}},
  "y":{"field":"v","type":"quantitative","scale":{"domain":[0,20],"nice":false},"axis":{"values":[0,5,10,15,20],"labelExpr":"datum.value % 10 === 0 ? datum.label : ''","title":"water column N/P (mol/mol)","titleX":-78,"titleY":93.5}}},
 "layer":[
  {"data":{"name":"lines"},"transform":[{"filter":"datum.panel === '5L'"}],"mark":{"type":"line","strokeWidth":3,"interpolate":"monotone"},
   "encoding":{"color":{"field":"var","type":"nominal","scale":{"domain":["N","P","prim. prod.","biomass","denitrification","N export","N burial","P export","P burial","N/P"],"range":["#000000","#8f8f8f","#8f8f8f","#000000","#8f8f8f","#000000","#8f8f8f","#000000","#8f8f8f","#000000"]},"legend":null},"strokeDash":{"field":"case","type":"nominal","scale":{"domain":["river","gw","-gw","+gw"],"range":[[1,0],[11,8],[1,0],[11,8]]},"legend":null}}},
  {"data":{"name":"labels"},"transform":[{"filter":"datum.panel === '5L'"}],"mark":{"type":"text","font":"Liberation Sans","fontSize":23,"color":"#1a1a1a"},"encoding":{"text":{"field":"label"}}}
 ]},
{"width":222,"height":222,
 "encoding":{"x":{"field":"t","type":"quantitative","scale":{"domain":[0,100],"nice":false},"axis":{"values":[0,25,50,75,100],"labelExpr":"datum.value % 50 === 0 ? datum.label : ''","title":"time (yrs)"}},
  "y":{"field":"v","type":"quantitative","scale":{"domain":[0,20],"nice":false},"axis":{"values":[0,5,10,15,20],"labelExpr":"datum.value % 10 === 0 ? datum.label : ''","title":null}}},
 "layer":[
  {"data":{"name":"lines"},"transform":[{"filter":"datum.panel === '5R'"}],"mark":{"type":"line","strokeWidth":3,"interpolate":"monotone"},
   "encoding":{"color":{"field":"var","type":"nominal","scale":{"domain":["N","P","prim. prod.","biomass","denitrification","N export","N burial","P export","P burial","N/P"],"range":["#000000","#8f8f8f","#8f8f8f","#000000","#8f8f8f","#000000","#8f8f8f","#000000","#8f8f8f","#000000"]},"legend":null},"strokeDash":{"field":"case","type":"nominal","scale":{"domain":["river","gw","-gw","+gw"],"range":[[1,0],[11,8],[1,0],[11,8]]},"legend":null}}},
  {"data":{"name":"labels"},"transform":[{"filter":"datum.panel === '5R'"}],"mark":{"type":"text","font":"Liberation Sans","fontSize":23,"color":"#1a1a1a"},"encoding":{"text":{"field":"label"}}}
 ]}
]
}
